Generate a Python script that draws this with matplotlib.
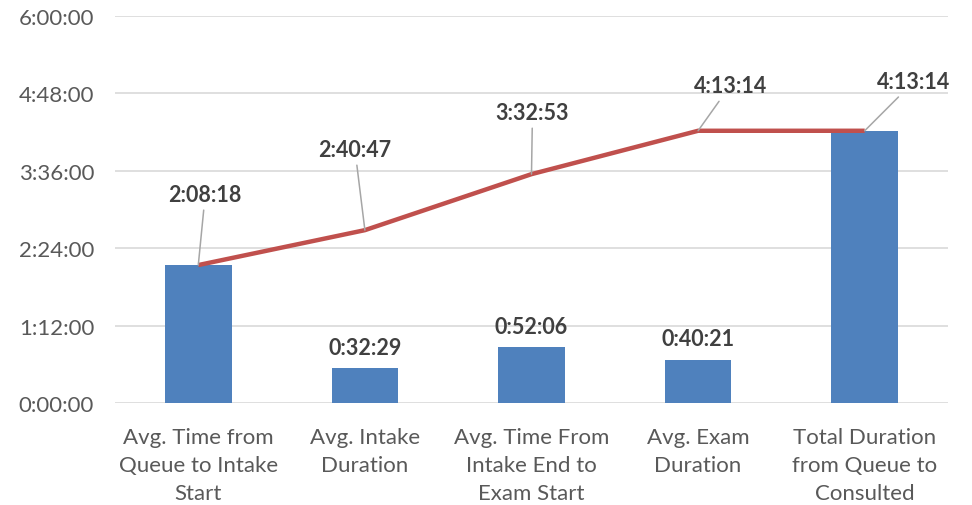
import numpy as np
import matplotlib.pyplot as plt
from matplotlib.ticker import FuncFormatter, MultipleLocator

# durations in seconds
categories = ["Avg. Time from\nQueue to Intake\nStart",
              "Avg. Intake\nDuration",
              "Avg. Time From\nIntake End to\nExam Start",
              "Avg. Exam\nDuration",
              "Total Duration\nfrom Queue to\nConsulted"]
bar_secs = [2*3600 + 8*60 + 18, 32*60 + 29, 52*60 + 6, 40*60 + 21, 4*3600 + 13*60 + 14]
line_secs = [2*3600 + 8*60 + 18, 2*3600 + 40*60 + 47, 3*3600 + 32*60 + 53,
             4*3600 + 13*60 + 14, 4*3600 + 13*60 + 14]
# which bars get their own label
bar_labelled = [False, True, True, True, False]


def hms(s, pos=None):
    s = int(round(s))
    return "%d:%02d:%02d" % (s // 3600, (s % 3600) // 60, s % 60)


plt.rcParams['font.family'] = ['Lato', 'DejaVu Sans']

fig = plt.figure(figsize=(9.72, 5.06), dpi=100)
ax = fig.add_axes([0.1183, 0.2016, 0.8570, 0.7648])

x = np.arange(len(categories))
ax.bar(x, bar_secs, width=0.40, color="#4F81BD", zorder=2)
ax.plot(x, line_secs, color="#C0504D", lw=3.2, zorder=3, solid_capstyle="butt")

ax.set_xlim(-0.5, len(categories) - 0.5)
ax.set_ylim(0, 6 * 3600)
ax.yaxis.set_major_locator(MultipleLocator(72 * 60))
ax.yaxis.set_major_formatter(FuncFormatter(hms))
ax.grid(axis="y", color="#D9D9D9", lw=1.2, zorder=0)
ax.set_axisbelow(True)
for sp in ax.spines.values():
    sp.set_visible(False)
ax.tick_params(length=0)
ax.tick_params(axis="y", labelsize=16, labelcolor="#595959", pad=15)
ax.set_xticks(x)
ax.set_xticklabels(categories, fontsize=16, color="#595959", linespacing=1.52)
ax.tick_params(axis="x", pad=17)

# line labels with leader lines (offsets in pixels)
offsets = [(7, 71), (-10, 81), (1, 62), (32, 45), (49, 49)]
for xi, yi, (dx, dy) in zip(x, line_secs, offsets):
    ax.annotate(hms(yi), (xi, yi), xytext=(dx * 0.72, dy * 0.72), textcoords="offset points",
                ha="center", va="center", fontsize=15.5, fontweight="bold", color="#404040",
                arrowprops=dict(arrowstyle="-", color="#A6A6A6", lw=1.1, shrinkA=2, shrinkB=0),
                zorder=4)

for xi, yi, lab in zip(x, bar_secs, bar_labelled):
    if lab:
        ax.annotate(hms(yi), (xi, yi), xytext=(0, 15), textcoords="offset points",
                    ha="center", va="center", fontsize=15.5, fontweight="bold", color="#404040")

fig.savefig("out.png", dpi=100)
